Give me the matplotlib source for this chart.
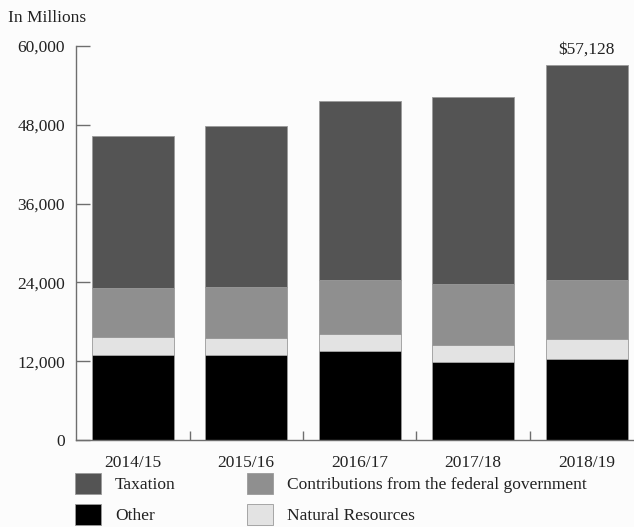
import matplotlib
matplotlib.use("Agg")
import matplotlib.pyplot as plt
from matplotlib.patches import Patch
from matplotlib.ticker import FuncFormatter

# data (in millions)
years = ["2014/15", "2015/16", "2016/17", "2017/18", "2018/19"]
other = [12920, 13020, 13530, 11900, 12360]
natural_resources = [2810, 2500, 2560, 2600, 2960]
federal = [7360, 7770, 8220, 9200, 9040]
taxation = [23220, 24460, 27370, 28490, 32768]
total_label = "$57,128"

plt.rcParams["font.family"] = ["Liberation Serif", "DejaVu Serif"]
plt.rcParams["font.size"] = 12

bg = "#fcfcfc"
c_tax = "#545454"
c_fed = "#8f8f8f"
c_nat = "#e3e3e3"
c_other = "#000000"
edge = "#9a9a9a"
axis_col = "#6e6e6e"

fig = plt.figure(figsize=(6.34, 5.27), dpi=100, facecolor=bg)
ax = fig.add_axes([76 / 634, 1 - 440 / 527, 567.5 / 634, 394 / 527])
ax.set_facecolor(bg)

x = list(range(len(years)))
w = 0.72
b1 = other
b2 = [a + b for a, b in zip(b1, natural_resources)]
b3 = [a + b for a, b in zip(b2, federal)]

ax.bar(x, other, w, color=c_other, edgecolor=edge, linewidth=0.6)
ax.bar(x, natural_resources, w, bottom=b1, color=c_nat, edgecolor=edge, linewidth=0.6)
ax.bar(x, federal, w, bottom=b2, color=c_fed, edgecolor=edge, linewidth=0.6)
ax.bar(x, taxation, w, bottom=b3, color=c_tax, edgecolor=edge, linewidth=0.6)

# label on the last bar
top_last = b3[-1] + taxation[-1]
ax.annotate(total_label, (x[-1], top_last), xytext=(0, 5), textcoords="offset points",
            ha="center", va="bottom", fontsize=12.5, color="#222222")

ax.set_xlim(-0.5, 4.5)
ax.set_ylim(0, 60000)
ax.set_yticks([0, 12000, 24000, 36000, 48000, 60000])
ax.yaxis.set_major_formatter(FuncFormatter(lambda v, p: f"{int(v):,}"))
ax.tick_params(axis="y", direction="in", length=10, width=1, color=axis_col, pad=8,
               labelcolor="#222222", labelsize=12.5)

ax.set_xticks(x)
ax.set_xticklabels(years)
ax.tick_params(axis="x", which="major", length=0, pad=11, labelcolor="#222222", labelsize=12.5)
ax.set_xticks([0.5, 1.5, 2.5, 3.5], minor=True)
ax.tick_params(axis="x", which="minor", direction="in", length=6.5, width=1, color=axis_col)

for s in ["top", "right"]:
    ax.spines[s].set_visible(False)
for s in ["left", "bottom"]:
    ax.spines[s].set_color(axis_col)
    ax.spines[s].set_linewidth(1)

fig.text(8 / 634, 1 - 18 / 527, "In Millions", ha="left", va="center", fontsize=12.5, color="#222222")

handles = [
    Patch(facecolor=c_tax, edgecolor=edge, linewidth=0.6),
    Patch(facecolor=c_other, edgecolor=edge, linewidth=0.6),
    Patch(facecolor=c_fed, edgecolor=edge, linewidth=0.6),
    Patch(facecolor=c_nat, edgecolor=edge, linewidth=0.6),
]
labels = ["Taxation", "Other", "Contributions from the federal government", "Natural Resources"]
fig.legend(handles, labels, ncol=2, loc="upper left", bbox_to_anchor=(75 / 634, 1 - 473 / 527),
           frameon=False, borderpad=0, borderaxespad=0, handlelength=1.5, handleheight=1.45,
           handletextpad=0.8, labelspacing=0.62, columnspacing=4.1, fontsize=12.5,
           labelcolor="#222222")

fig.savefig("out.png", dpi=100, facecolor=bg)
